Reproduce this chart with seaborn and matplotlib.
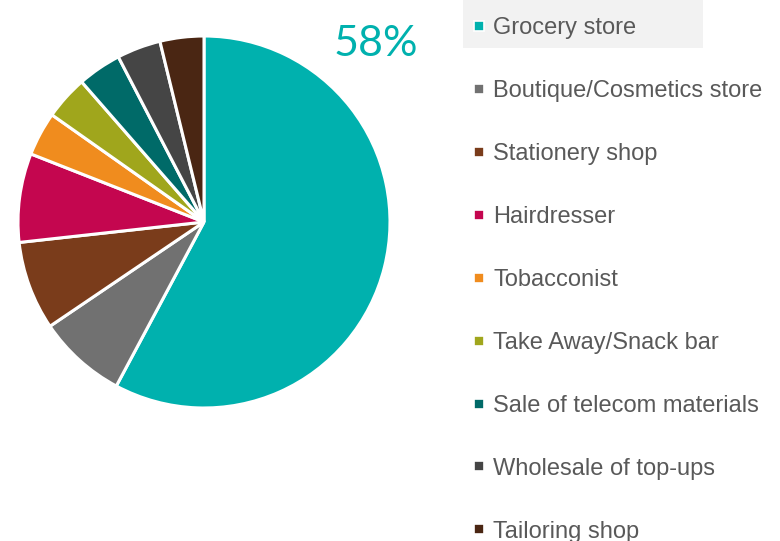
import matplotlib
matplotlib.use("Agg")
import matplotlib.pyplot as plt
from matplotlib.lines import Line2D
from matplotlib.patches import Rectangle
import seaborn as sns

# shares of businesses by type (in %)
categories = ["Grocery store", "Boutique/Cosmetics store", "Stationery shop",
              "Hairdresser", "Tobacconist", "Take Away/Snack bar",
              "Sale of telecom materials", "Wholesale of top-ups", "Tailoring shop"]
shares = [57.7, 7.7, 7.7, 7.7, 3.8, 3.8, 3.8, 3.8, 3.8]
colors = ["#00B1AE", "#717171", "#7A3C1B", "#C4064F", "#F08C1E",
          "#A0A61C", "#006A68", "#454545", "#4A2613"]
top_label = "58%"

sns.set_theme(style="white")
plt.rcParams['font.family'] = ['Liberation Sans', 'DejaVu Sans']
palette = sns.color_palette(colors)

fig = plt.figure(figsize=(7.8, 5.41), dpi=100)

# grey highlight behind the first legend entry
fig.patches.append(Rectangle((463 / 780, 1 - 48 / 541), 240 / 780, 48 / 541,
                             transform=fig.transFigure, facecolor="#F2F2F2",
                             edgecolor="none", zorder=0))

ax = fig.add_axes([18 / 780, 133 / 541, 372 / 780, 372 / 541])
wedges, _ = ax.pie(shares, colors=palette, startangle=90, counterclock=False,
                   radius=1, wedgeprops=dict(edgecolor="white", linewidth=2.2))
ax.set_xlim(-1, 1)
ax.set_ylim(-1, 1)
ax.set_aspect("equal")
ax.axis("off")

fig.text(376 / 780, 1 - 44 / 541, top_label, color=colors[0], fontsize=31,
         family=["Lato", "DejaVu Sans"], fontweight="normal",
         ha="center", va="center")

handles = [Line2D([0], [0], marker="s", linestyle="none", markersize=7,
                  markerfacecolor=c, markeredgecolor="white", markeredgewidth=1.2)
           for c in colors]
leg = fig.legend(handles, categories, loc="upper left",
                 bbox_to_anchor=(472 / 780, 1 - 17 / 541),
                 frameon=False, fontsize=17, labelcolor="#595959",
                 handlelength=0.6, handletextpad=0.3, labelspacing=1.735,
                 borderpad=0, borderaxespad=0)

fig.savefig("out.png", dpi=100)
